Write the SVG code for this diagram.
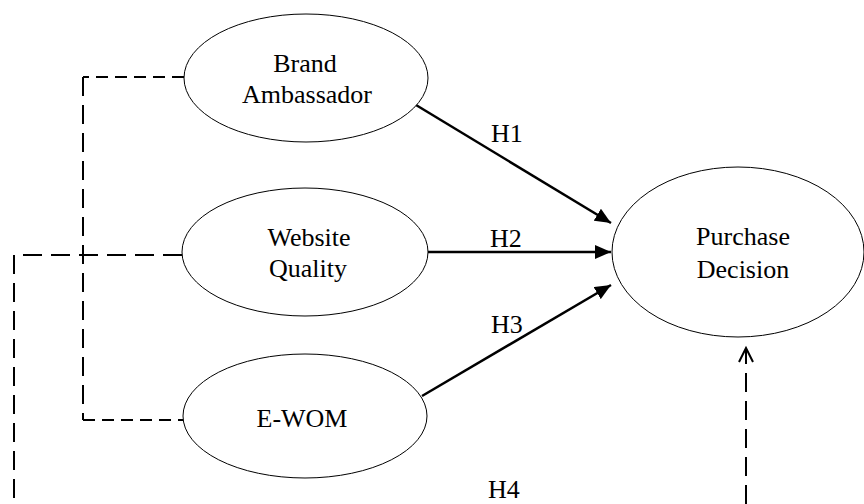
<svg xmlns="http://www.w3.org/2000/svg" width="864" height="504" viewBox="0 0 864 504">
<style>
.node ellipse{fill:#fff;stroke:#000;stroke-width:1}
text{font-family:"Liberation Serif","Times New Roman",serif;font-size:26px;fill:#000}
.c{text-anchor:middle}
.solid{stroke:#000;stroke-width:2.5;fill:none}
.dash{stroke:#000;stroke-width:2;fill:none}
.ds{stroke-dasharray:12 7}
.dl{stroke-dasharray:19 9}
</style>
<defs>
<marker id="ah" viewBox="0 0 16 14" refX="16" refY="7" markerWidth="16" markerHeight="14" markerUnits="userSpaceOnUse" orient="auto">
<path d="M0,0 L16,7 L0,14 z" fill="#000"/>
</marker>
</defs>
<rect width="864" height="504" fill="#fff"/>
<g id="connectors">
<line class="solid" x1="416" y1="105" x2="611" y2="223" marker-end="url(#ah)"/>
<line class="solid" x1="428" y1="252" x2="611" y2="252" marker-end="url(#ah)"/>
<line class="solid" x1="422" y1="396" x2="611" y2="285" marker-end="url(#ah)"/>
<path class="dash ds" d="M184,77 H83"/>
<path class="dash dl" d="M83,77 V420"/>
<path class="dash ds" d="M83,420 H183"/>
<path class="dash dl" d="M182,255 H14 V504"/>
<path class="dash dl" d="M746,504 V350"/>
<path class="dash" d="M739,362 L746,348 L753,362"/>
<text x="491" y="142">H1</text>
<text x="490" y="247">H2</text>
<text x="491" y="333">H3</text>
<text x="488" y="498">H4</text>
</g>
<g id="brand" class="node">
<ellipse cx="306" cy="78" rx="122" ry="64"/>
<text class="c" x="305" y="72">Brand</text>
<text class="c" x="307" y="103">Ambassador</text>
</g>
<g id="website" class="node">
<ellipse cx="305" cy="252" rx="123" ry="64"/>
<text class="c" x="309" y="246">Website</text>
<text class="c" x="308" y="277">Quality</text>
</g>
<g id="ewom" class="node">
<ellipse cx="305" cy="416" rx="122" ry="62"/>
<text class="c" x="302" y="427">E-WOM</text>
</g>
<g id="purchase" class="node">
<ellipse cx="738" cy="252" rx="126" ry="85"/>
<text class="c" x="743" y="245">Purchase</text>
<text class="c" x="743" y="278">Decision</text>
</g>
</svg>
